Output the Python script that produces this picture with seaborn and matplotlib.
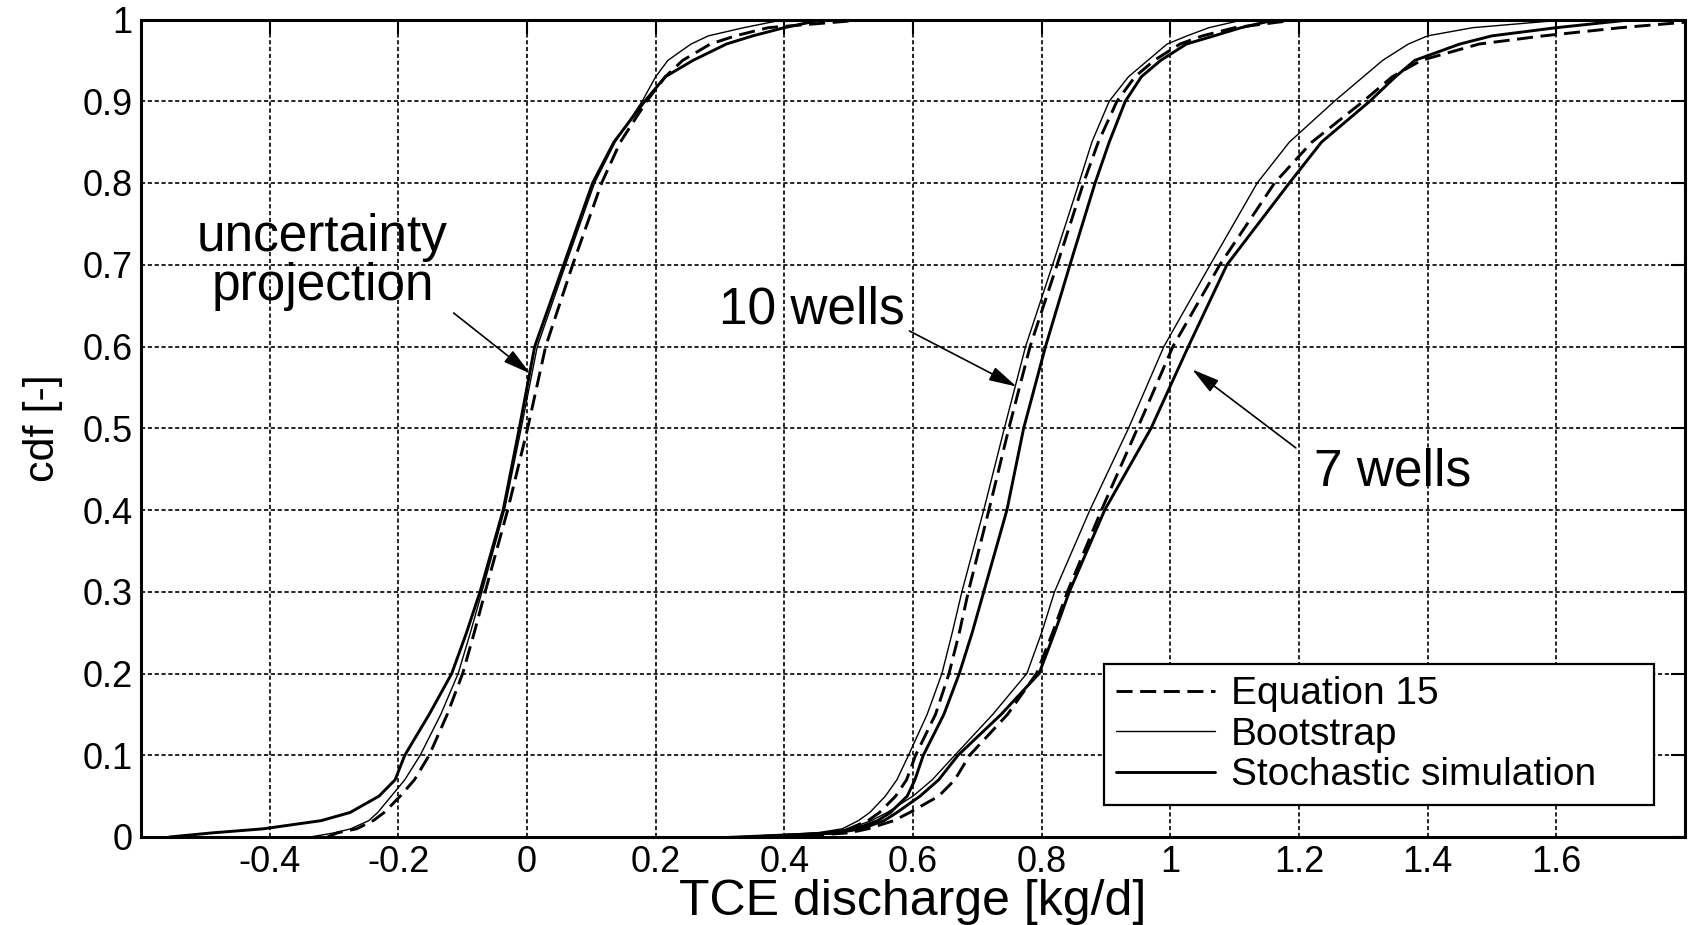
import numpy as np
import pandas as pd
import matplotlib
matplotlib.use("Agg")
import matplotlib.pyplot as plt
import seaborn as sns
from matplotlib.lines import Line2D
from matplotlib.ticker import FuncFormatter

# ---------------- data ----------------
cdf_levels = [0.0, 0.005, 0.01, 0.02, 0.03, 0.05, 0.07, 0.1, 0.15, 0.2, 0.25, 0.3, 0.4,
              0.5, 0.6, 0.7, 0.8, 0.85, 0.9, 0.93, 0.95, 0.97, 0.98, 0.99, 1.0]

# uncertainty projection
up_eq15 = [-0.31, -0.295, -0.265, -0.239, -0.222, -0.197, -0.175, -0.152, -0.124, -0.100, -0.082,
           -0.065, -0.030, 0.001, 0.029, 0.071, 0.116, 0.145, 0.186, 0.215, 0.242, 0.285,
           0.324, 0.375, 0.53]
up_boot = [-0.337, -0.30, -0.274, -0.246, -0.232, -0.211, -0.19, -0.166, -0.134, -0.107, -0.088,
           -0.070, -0.035, -0.009, 0.016, 0.060, 0.105, 0.137, 0.179, 0.200, 0.219, 0.255,
           0.282, 0.337, 0.40]
up_stoch = [-0.556, -0.49, -0.41, -0.32, -0.275, -0.23, -0.205, -0.19, -0.152, -0.117, -0.094,
            -0.073, -0.037, -0.012, 0.012, 0.057, 0.102, 0.135, 0.183, 0.215, 0.258, 0.31,
            0.351, 0.40, 0.46]

# 10 wells
w10_eq15 = [0.35, 0.47, 0.50, 0.53, 0.548, 0.573, 0.59, 0.604, 0.635, 0.656, 0.672,
            0.686, 0.718, 0.749, 0.782, 0.824, 0.865, 0.888, 0.917, 0.945, 0.975, 1.015,
            1.050, 1.10, 1.20]
w10_boot = [0.30, 0.45, 0.49, 0.515, 0.533, 0.557, 0.575, 0.593, 0.622, 0.645, 0.661,
            0.676, 0.710, 0.742, 0.775, 0.817, 0.858, 0.878, 0.905, 0.935, 0.965, 0.995,
            1.026, 1.06, 1.115]
w10_stoch = [0.38, 0.48, 0.51, 0.545, 0.565, 0.591, 0.603, 0.616, 0.648, 0.672, 0.692,
             0.710, 0.746, 0.772, 0.806, 0.844, 0.883, 0.905, 0.930, 0.955, 0.985, 1.025,
             1.068, 1.11, 1.165]

# 7 wells
w7_eq15 = [0.40, 0.50, 0.53, 0.57, 0.595, 0.64, 0.665, 0.688, 0.747, 0.792, 0.817,
           0.840, 0.893, 0.949, 1.004, 1.077, 1.162, 1.22, 1.300, 1.345, 1.390, 1.48,
           1.580, 1.70, 1.85]
w7_boot = [0.32, 0.46, 0.50, 0.535, 0.56, 0.60, 0.63, 0.665, 0.724, 0.777, 0.80,
           0.820, 0.875, 0.935, 0.990, 1.062, 1.135, 1.185, 1.255, 1.30, 1.330, 1.37,
           1.400, 1.47, 1.62]
w7_stoch = [0.36, 0.48, 0.52, 0.555, 0.575, 0.611, 0.64, 0.670, 0.737, 0.796, 0.82,
            0.843, 0.898, 0.970, 1.028, 1.088, 1.185, 1.235, 1.310, 1.35, 1.380, 1.45,
            1.500, 1.60, 1.72]

groups = ["uncertainty projection", "10 wells", "7 wells"]
methods = ["Equation 15", "Bootstrap", "Stochastic simulation"]
curves = {
    ("uncertainty projection", "Equation 15"): up_eq15,
    ("uncertainty projection", "Bootstrap"): up_boot,
    ("uncertainty projection", "Stochastic simulation"): up_stoch,
    ("10 wells", "Equation 15"): w10_eq15,
    ("10 wells", "Bootstrap"): w10_boot,
    ("10 wells", "Stochastic simulation"): w10_stoch,
    ("7 wells", "Equation 15"): w7_eq15,
    ("7 wells", "Bootstrap"): w7_boot,
    ("7 wells", "Stochastic simulation"): w7_stoch,
}
xticks = [-0.4, -0.2, 0, 0.2, 0.4, 0.6, 0.8, 1.0, 1.2, 1.4, 1.6]
yticks = [0, 0.1, 0.2, 0.3, 0.4, 0.5, 0.6, 0.7, 0.8, 0.9, 1.0]

rows = []
for (g, m), xs in curves.items():
    for c, xv in zip(cdf_levels, xs):
        rows.append({"group": g, "method": m, "x": xv, "cdf": c})
df = pd.DataFrame(rows)

# ---------------- style ----------------
sns.set_style("white")
plt.rcParams["font.family"] = ["Liberation Sans", "DejaVu Sans"]
for k in ["text.color", "axes.labelcolor", "xtick.color", "ytick.color"]:
    plt.rcParams[k] = "black"

fig = plt.figure(figsize=(16.92, 9.25), dpi=100)
ax = fig.add_axes([141 / 1692, (925 - 837) / 925, (1685 - 141) / 1692, (837 - 19.5) / 925])

line_styles = {
    "Equation 15": dict(lw=2.1, linestyle=(0, (5.5, 2.6))),
    "Bootstrap": dict(lw=1.0, linestyle="-"),
    "Stochastic simulation": dict(lw=2.1, linestyle="-"),
}
for m in methods:
    sub = df[df["method"] == m]
    sns.lineplot(data=sub, x="x", y="cdf", units="group", estimator=None, sort=False,
                 color="black", ax=ax, legend=False, **line_styles[m])

ax.set_xlim(-0.6, 1.8)
ax.set_ylim(0, 1)
ax.set_xticks(xticks)
ax.set_yticks(yticks)
fmt = FuncFormatter(lambda v, p: ("%g" % round(v, 2)))
ax.xaxis.set_major_formatter(fmt)
ax.yaxis.set_major_formatter(fmt)

ax.set_axisbelow(True)
ax.grid(True, color="black", linestyle=(0, (2.5, 1.6)), linewidth=1.2)
for s in ax.spines.values():
    s.set_visible(True)
    s.set_color("black")
    s.set_linewidth(2.2)
ax.tick_params(direction="in", top=True, right=True, length=10, width=1.5,
               labelsize=26, colors="black")
ax.tick_params(axis="x", pad=6)
ax.tick_params(axis="y", pad=6)

ax.set_xlabel("TCE discharge [kg/d]", fontsize=36)
ax.xaxis.label.set_va("bottom")
ax.xaxis.set_label_coords(0.5, -(925 - 837) / 817.5)
ax.set_ylabel("cdf [-]", fontsize=31, labelpad=14)

# annotations
arrow_kw = dict(arrowstyle="-|>,head_length=0.85,head_width=0.22",
                color="black", lw=1.2, shrinkA=0, shrinkB=0, mutation_scale=20)
txt_kw = dict(fontsize=37, ha="center", va="center")
ax.text(-0.318, 0.733, "uncertainty", **txt_kw)
ax.text(-0.318, 0.673, "projection", **txt_kw)
ax.annotate("", xy=(0.005, 0.567), xytext=(-0.114, 0.641), arrowprops=arrow_kw)
ax.text(0.443, 0.645, "10 wells", **txt_kw)
ax.annotate("", xy=(0.761, 0.551), xytext=(0.5945, 0.619), arrowprops=arrow_kw)
ax.text(1.346, 0.447, "7 wells", **txt_kw)
ax.annotate("", xy=(1.034, 0.572), xytext=(1.195, 0.476), arrowprops=arrow_kw)

handles = [Line2D([0], [0], color="black", **line_styles[m]) for m in methods]
leg = ax.legend(handles, methods, loc="lower left", bbox_to_anchor=(0.624, 0.039, 0.356, 0.17),
                mode="expand", borderaxespad=0, fontsize=28, frameon=True, fancybox=False,
                handlelength=2.55, handletextpad=0.4, labelspacing=0.12,
                borderpad=0.3, framealpha=1)
leg.get_frame().set_edgecolor("black")
leg.get_frame().set_linewidth(1.6)

fig.savefig("out.png", dpi=100)
